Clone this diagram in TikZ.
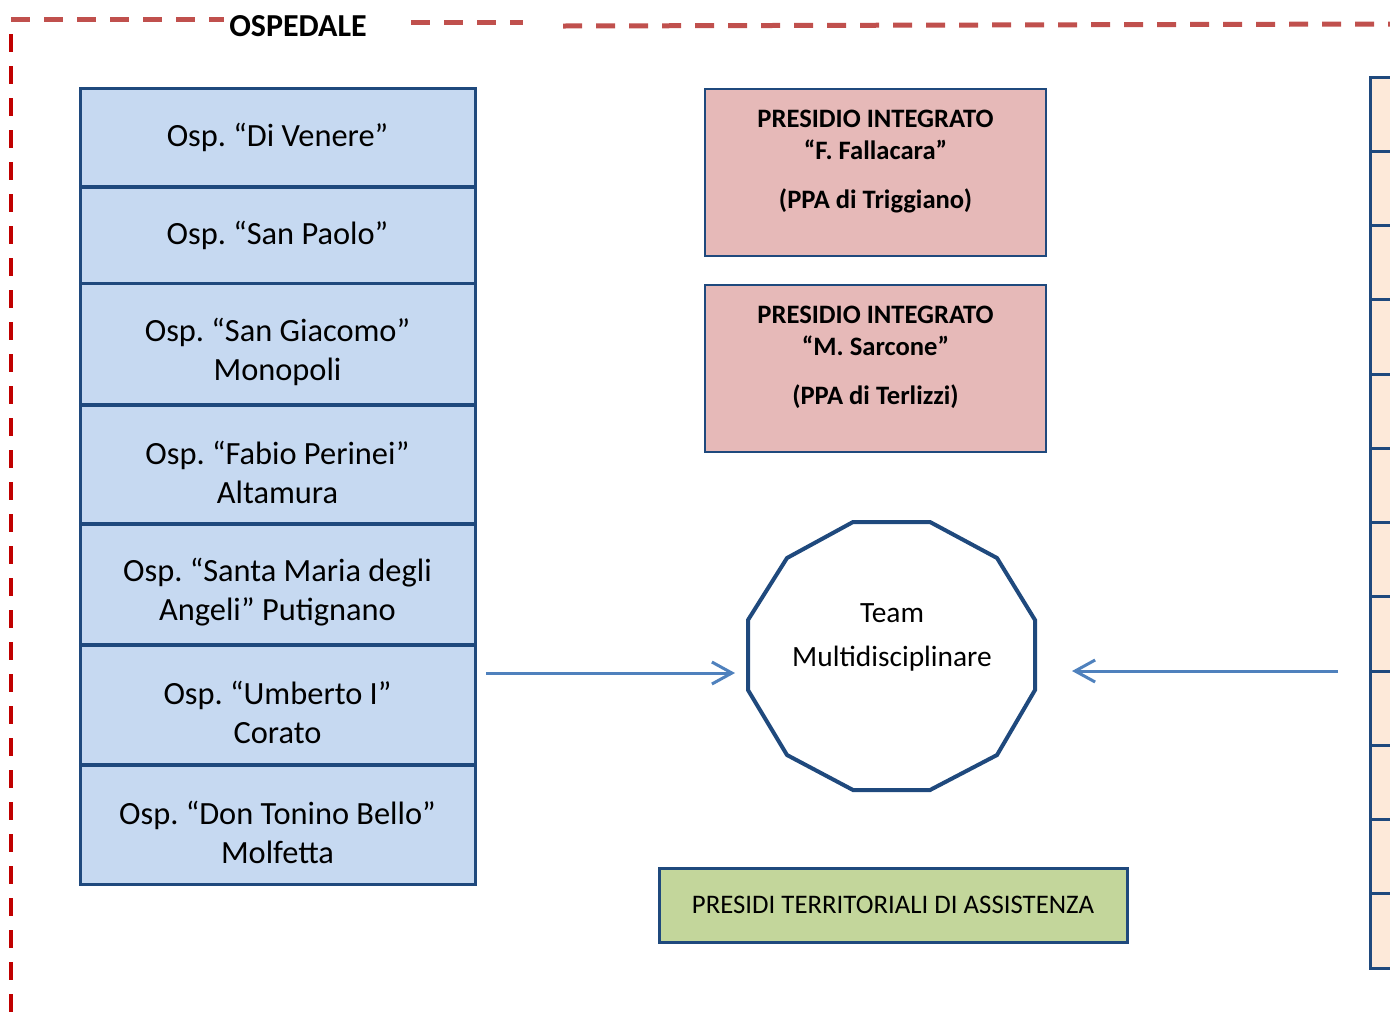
\documentclass[tikz,border=0pt]{standalone}
\usepackage{fontspec}
\setmainfont{Carlito}
\usepackage{tikz}
\usetikzlibrary{arrows.meta,shapes}
\frenchspacing
\newcommand{\toppad}{\rule{0pt}{20pt}}
\definecolor{frameblue}{HTML}{1F497D}
\definecolor{arrowblue}{HTML}{4F81BD}
\definecolor{hospfill}{HTML}{C6D9F1}
\definecolor{ppafill}{HTML}{E6B9B8}
\definecolor{terrfill}{HTML}{C3D69B}
\definecolor{sidefill}{HTML}{FDE9D9}
\definecolor{dashtop}{HTML}{C0504D}
\definecolor{dashleft}{HTML}{C00000}
\tikzstyle{hosp}=[rectangle,draw=frameblue,line width=1.5pt,fill=hospfill,minimum width=197.5pt,inner sep=0pt,align=center,font=\fontsize{16.2}{19.5}\selectfont]
\tikzstyle{ppa box}=[rectangle,draw=frameblue,line width=1pt,fill=ppafill,minimum width=170.5pt,minimum height=83.5pt]
\tikzstyle{ppa text}=[align=center,inner sep=0pt,font=\bfseries\fontsize{13.3}{16}\selectfont]
\tikzstyle{terr box}=[rectangle,draw=frameblue,line width=1.5pt,fill=terrfill,minimum width=234pt,minimum height=37pt,font=\fontsize{13.4}{15}\selectfont]
\tikzstyle{side box}=[rectangle,draw=frameblue,line width=1.5pt,fill=sidefill,minimum width=40pt,minimum height=37.125pt]
\tikzstyle{team line}=[draw=frameblue,line width=2pt,line join=miter]
\tikzstyle{team text}=[align=center,inner sep=0pt,font=\fontsize{14.7}{16.5}\selectfont]
\tikzstyle{link}=[draw=arrowblue,line width=1.5pt,-{Straight Barb[length=10pt,width=11pt]}]
\tikzstyle{border top}=[draw=dashtop,line width=2.5pt,dash pattern=on 9.5pt off 7pt]
\tikzstyle{border left}=[draw=dashleft,line width=2pt,dash pattern=on 9pt off 7pt]

\begin{document}
\begin{tikzpicture}[x=0.5pt,y=-0.5pt]
    % Page as large as the picture
    \clip (0,0) rectangle (1390,1035);
    % Dashed frame of the hospital area
    \path[border top] (11,19) -- (224,19);
    \path[border top] (411,22.5) -- (523,22.5);
    \path[border top] (563,26) -- (1390,24);
    \path[border left] (11,34) -- (11,1013);
    \node[font=\bfseries\fontsize{16}{18}\selectfont] (ospedale) at (298,26) {OSPEDALE};

    % Hospitals on the left
    \foreach \y/\h/\name/\txt in {137/98/venere/{Osp. “Di Venere”},235/96/paolo/{Osp. “San Paolo”},
        343.5/121/giacomo/{\toppad Osp. “San Giacomo”\\Monopoli},464/118/perinei/{\toppad Osp. “Fabio Perinei”\\Altamura},
        584/120/angeli/{\toppad Osp. “Santa Maria degli\\Angeli” Putignano},704.5/119/umberto/{\toppad Osp. “Umberto I”\\Corato},
        824.5/119/bello/{\toppad Osp. “Don Tonino Bello”\\Molfetta}}
        \node[hosp,minimum height=\h*0.5pt] (\name) at (277.5,\y) {\txt};

    % Integrated presidia
    \node[ppa box] (fallacara) at (875.5,172.5) {};
    \node[ppa text] (fallacaraT) at (875.5,161.5) {PRESIDIO INTEGRATO\\“F. Fallacara”\\[8.5pt](PPA di Triggiano)};
    \node[ppa box] (sarcone) at (875.5,368.5) {};
    \node[ppa text] (sarconeT) at (875.5,357.5) {PRESIDIO INTEGRATO\\“M. Sarcone”\\[8.5pt](PPA di Terlizzi)};

    % Multidisciplinary team
    \path[team line] (853,522) -- (930,522) -- (997,558) -- (1035,620) -- (1035,690) -- (997,755)
        -- (930,790) -- (853,790) -- (787,755) -- (748,690) -- (748,620) -- (787,558) -- cycle;
    \node[team text] (team) at (892,637) {Team\\[5.5pt]Multidisciplinare};

    % Territorial presidia
    \node[terr box] (presidi) at (893,905) {PRESIDI TERRITORIALI DI ASSISTENZA};

    % Column on the right
    \foreach \i [evaluate=\i as \y using 114.125+74.25*\i] in {0,...,11}
        \node[side box] (side\i) at (1410,\y) {};

    % Arrows into the team
    \coordinate (ospOut) at (486,673);
    \coordinate (teamW) at (735,673);
    \coordinate (sideOut) at (1338,671);
    \coordinate (teamE) at (1072,671);
    \path[link] (ospOut) -- (teamW);
    \path[link] (sideOut) -- (teamE);
\end{tikzpicture}
\end{document}
